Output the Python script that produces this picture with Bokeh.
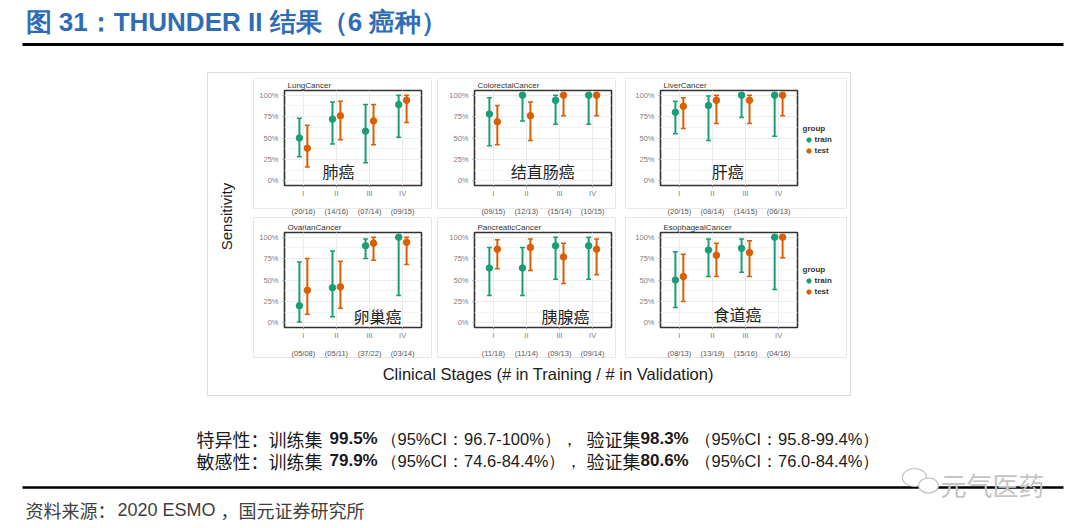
import numpy as np
from bokeh.plotting import figure
from bokeh.models import (GridBox, Range1d, FixedTicker, ColumnDataSource, Whisker,
                          TeeHead, Legend, LegendItem, Label, LinearAxis, Grid)
from bokeh.embed import file_html
from bokeh.resources import INLINE
from bokeh.core.properties import value

# ---------------- data ----------------
title_text = "图 31：THUNDER II 结果（6 癌种）"
stages = ["I", "II", "III", "IV"]
groups = ["train", "test"]
y_ticks = [0, 25, 50, 75, 100]
y_tick_labels = ["0%", "25%", "50%", "75%", "100%"]
cancers = ["LungCancer", "ColorectalCancer", "LiverCancer",
           "OvarianCancer", "PancreaticCancer", "EsophagealCancer"]
cancer_cn = ["肺癌", "结直肠癌", "肝癌", "卵巢癌", "胰腺癌", "食道癌"]

lung_counts = ["(20/16)", "(14/16)", "(07/14)", "(09/15)"]
lung_train = [50, 72, 58, 89]
lung_train_lo = [28, 43, 21, 51]
lung_train_hi = [73, 92, 89, 100]
lung_test = [38, 76, 70, 94]
lung_test_lo = [16, 48, 42, 68]
lung_test_hi = [65, 93, 89, 100]

crc_counts = ["(09/15)", "(12/13)", "(15/14)", "(10/15)"]
crc_train = [78, 100, 94, 100]
crc_train_lo = [41, 70, 66, 66]
crc_train_hi = [97, 100, 100, 100]
crc_test = [69, 76, 100, 100]
crc_test_lo = [42, 47, 76, 76]
crc_test_hi = [88, 92, 100, 100]

liver_counts = ["(20/15)", "(08/14)", "(14/15)", "(06/13)"]
liver_train = [80, 88, 100, 100]
liver_train_lo = [55, 47, 74, 52]
liver_train_hi = [93, 99, 100, 100]
liver_test = [87, 94, 94, 100]
liver_test_lo = [61, 67, 67, 76]
liver_test_hi = [97, 100, 100, 100]

ovary_counts = ["(05/08)", "(05/11)", "(37/22)", "(03/14)"]
ovary_train = [20, 41, 90, 100]
ovary_train_lo = [1, 7, 75, 32]
ovary_train_hi = [71, 84, 98, 100]
ovary_test = [38, 42, 93, 94]
ovary_test_lo = [10, 17, 73, 68]
ovary_test_hi = [75, 72, 100, 100]

panc_counts = ["(11/18)", "(11/14)", "(09/13)", "(09/14)"]
panc_train = [64, 64, 90, 90]
panc_train_lo = [32, 32, 51, 51]
panc_train_hi = [88, 88, 100, 100]
panc_test = [86, 88, 77, 86]
panc_test_lo = [63, 61, 46, 56]
panc_test_hi = [97, 98, 93, 98]

eso_counts = ["(08/13)", "(13/19)", "(15/16)", "(04/16)"]
eso_train = [50, 85, 87, 100]
eso_train_lo = [18, 54, 59, 39]
eso_train_hi = [83, 98, 98, 100]
eso_test = [54, 79, 82, 100]
eso_test_lo = [25, 54, 54, 76]
eso_test_hi = [80, 93, 96, 100]

note_rows = [
    ["特异性：训练集", "99.5%", "（95%CI：96.7-100%），", "验证集", "98.3%", "（95%CI：95.8-99.4%）"],
    ["敏感性：训练集", "79.9%", "（95%CI：74.6-84.4%），", "验证集", "80.6%", "（95%CI：76.0-84.4%）"],
]
y_axis_title = "Sensitivity"
x_axis_title = "Clinical Stages  (# in Training / # in Validation)"
source_parts = ["资料来源：", "2020 ESMO", "，国元证券研究所"]
watermark = "元气医药"

panel_data = [
    (lung_counts, lung_train, lung_train_lo, lung_train_hi, lung_test, lung_test_lo, lung_test_hi),
    (crc_counts, crc_train, crc_train_lo, crc_train_hi, crc_test, crc_test_lo, crc_test_hi),
    (liver_counts, liver_train, liver_train_lo, liver_train_hi, liver_test, liver_test_lo, liver_test_hi),
    (ovary_counts, ovary_train, ovary_train_lo, ovary_train_hi, ovary_test, ovary_test_lo, ovary_test_hi),
    (panc_counts, panc_train, panc_train_lo, panc_train_hi, panc_test, panc_test_lo, panc_test_hi),
    (eso_counts, eso_train, eso_train_lo, eso_train_hi, eso_test, eso_test_lo, eso_test_hi),
]

# ---------------- styles / layout ----------------
CJK = "Noto Sans CJK SC"
SANS = "Liberation Sans"
TRAIN_C = "#1B9E77"
TEST_C = "#D95F02"
cn_label_x = [2.06, 2.49, 2.46, 3.24, 3.18, 2.76]
cn_label_y = [12, 12, 12, 8, 8, 10]
W, H = 1080, 528


def make_panel(k, wide):
    counts, tr, trl, trh, te, tel, teh = panel_data[k]
    p = figure(width=217 if wide else 175, height=142,
               output_backend="svg", toolbar_location=None,
               x_range=Range1d(0.43, 4.57), y_range=Range1d(-5.5, 105.5),
               x_axis_type=None, y_axis_type=None,
               min_border_left=32, min_border_right=48 if wide else 6,
               min_border_top=14, min_border_bottom=30,
               background_fill_color=None, border_fill_color=None,
               outline_line_color="#333333", outline_line_width=1.6,
               title=cancers[k])
    p.title.text_font = SANS
    p.title.text_font_size = "8px"
    p.title.text_font_style = "normal"
    p.title.text_color = "#333333"
    p.title.align = "left"
    p.title.offset = 3
    p.title.standoff = 1

    pos = np.arange(1, len(stages) + 1)
    yt = np.array(y_ticks, dtype=float)
    y_ticker = FixedTicker(ticks=[float(v) for v in yt],
                           minor_ticks=[float(v) for v in (yt[:-1] + yt[1:]) / 2])
    x_ticker = FixedTicker(ticks=[float(v) for v in pos])
    p.add_layout(Grid(dimension=0, ticker=x_ticker, grid_line_color="#ebebeb"))
    p.add_layout(Grid(dimension=1, ticker=y_ticker, grid_line_color="#ebebeb",
                      minor_grid_line_color="#f4f4f4"))

    yax = LinearAxis(ticker=y_ticker,
                     major_label_overrides={int(t): l for t, l in zip(y_ticks, y_tick_labels)},
                     axis_line_color=None, major_tick_line_color="#9a9a9a",
                     major_tick_out=2, major_tick_in=0, minor_tick_line_color=None,
                     major_label_text_font=SANS, major_label_text_font_size="7.5px",
                     major_label_text_color="#808080", major_label_standoff=2)
    p.add_layout(yax, "left")
    xax = LinearAxis(ticker=x_ticker,
                     major_label_overrides={int(i): s for i, s in zip(pos, stages)},
                     axis_line_color=None, major_tick_line_color="#9a9a9a",
                     major_tick_out=2, major_tick_in=0, minor_tick_line_color=None,
                     major_label_text_font=SANS, major_label_text_font_size="7.5px",
                     major_label_text_color="#808080", major_label_standoff=1)
    p.add_layout(xax, "below")
    xax2 = LinearAxis(ticker=x_ticker,
                      major_label_overrides={int(i): s for i, s in zip(pos, counts)},
                      axis_line_color=None, major_tick_line_color=None,
                      major_tick_out=0, major_tick_in=0, minor_tick_line_color=None,
                      major_label_text_font=SANS, major_label_text_font_size="7.5px",
                      major_label_text_color="#555555", major_label_standoff=6)
    p.add_layout(xax2, "below")

    for vals, lo, hi, off, col in ((tr, trl, trh, -0.12, TRAIN_C),
                                   (te, tel, teh, 0.12, TEST_C)):
        src = ColumnDataSource(dict(x=pos + off, y=vals, lo=lo, hi=hi))
        p.add_layout(Whisker(source=src, base="x", upper="hi", lower="lo",
                             line_color=col, line_width=2,
                             upper_head=TeeHead(size=5, line_color=col, line_width=1.5),
                             lower_head=TeeHead(size=5, line_color=col, line_width=1.5)))
        p.scatter("x", "y", source=src, size=6.5, fill_color=col, line_color=col)

    p.add_layout(Label(x=cn_label_x[k], y=cn_label_y[k], text=cancer_cn[k], text_font=CJK,
                       text_font_size="16px", text_align="center", text_baseline="middle",
                       text_color="#222222"))
    return p


# ---------------- background figure ----------------
bg = figure(width=W, height=H, x_range=Range1d(0, W), y_range=Range1d(H, 0),
            output_backend="svg", toolbar_location=None, x_axis_type=None, y_axis_type=None,
            min_border=0, outline_line_color=None,
            background_fill_color="white", border_fill_color="white")


def txt(x, y, s, size, font=SANS, color="#222222", bold=False, align="left", angle=0.0):
    bg.text(x=[x], y=[y], text=[s], text_font=value(font), text_font_size=size,
            text_color=color, text_font_style="bold" if bold else "normal",
            text_align=align, text_baseline="middle", angle=angle)


def hline(x0, x1, y, w, c):
    bg.segment(x0=[x0], y0=[y], x1=[x1], y1=[y], line_width=w, line_color=c)


def box(l, t, r, b, c):
    bg.quad(left=[l], right=[r], top=[t], bottom=[b],
            fill_color=None, line_color=c, line_width=1)


# title + rule
txt(25, 21, title_text, "26px", color="#2E6DB5", bold=True)
hline(22, 1063, 44, 3, "black")

# chart image frame and facet boxes
box(207, 72, 850, 395, "#dcdcdc")
for (l, r) in ((253, 431), (437, 615), (625, 846)):
    box(l, 78, r, 208, "#e8e8e8")
    box(l, 217, r, 357, "#e8e8e8")

txt(226, 216, y_axis_title, "15px", color="#1a1a1a", align="center", angle=np.pi / 2)
txt(550, 373, x_axis_title, "16.5px", color="#1a1a1a", align="center")

# legends ("group": train / test) to the right of the third column;
# the proxy renderers carry one point placed outside the visible canvas
leg_r = [bg.scatter(x=[-50], y=[-50], size=6, fill_color=c, line_color=c)
         for c in (TRAIN_C, TEST_C)]
for ly in (372.5, 231.5):
    bg.add_layout(Legend(
        items=[LegendItem(label=g, renderers=[r]) for g, r in zip(groups, leg_r)],
        title="group", title_text_font=SANS, title_text_font_size="8px",
        title_text_font_style="bold", title_text_color="#333333",
        label_text_font=SANS, label_text_font_size="8px",
        label_text_font_style="bold", label_text_color="#333333",
        glyph_width=11, glyph_height=11, label_height=11, label_standoff=1,
        spacing=0, padding=0, margin=0, title_standoff=1,
        background_fill_alpha=0, border_line_color=None,
        location=(802.5, ly)))

# notes
seg_x = [196, 329, 380, 586, 640, 694]
seg_bold = [False, True, False, False, True, False]
seg_font = [CJK, SANS, SANS, CJK, SANS, SANS]
seg_size = ["18px", "17px", "16.5px", "18px", "17px", "16.5px"]
for row, yy in zip(note_rows, (438, 460)):
    for s, xx, b, f, sz in zip(row, seg_x, seg_bold, seg_font, seg_size):
        txt(xx, yy, s, sz, font=f, color="#1a1a1a", bold=b)

# footer
hline(22, 1063, 487, 2.5, "black")
txt(25, 509, source_parts[0], "18px", font=CJK, color="#404040")
txt(117, 509, source_parts[1], "18px", font=SANS, color="#404040")
txt(220, 509, source_parts[2], "18px", font=CJK, color="#404040")

# watermark
bg.ellipse(x=[914, 928], y=[477, 485], width=[24, 20], height=[18, 15],
           fill_color="white", line_color="#bdbdbd", line_width=1.2)
txt(992, 484, watermark, "26px", font=CJK, color="#c4c4c4", align="center")

# ---------------- assemble ----------------
panels = [make_panel(k, k % 3 == 2) for k in range(6)]
children = [(bg, 0, 0, 4, 7)]
for k, pnl in enumerate(panels):
    children.append((pnl, 1 + k // 3, 1 + 2 * (k % 3)))

layout = GridBox(children=children,
                 rows=["76px", "142px", "142px", "168px"],
                 cols=["252px", "175px", "15px", "175px", "11px", "217px", "235px"],
                 spacing=0)

open("out.html", "w").write(file_html(layout, INLINE))
